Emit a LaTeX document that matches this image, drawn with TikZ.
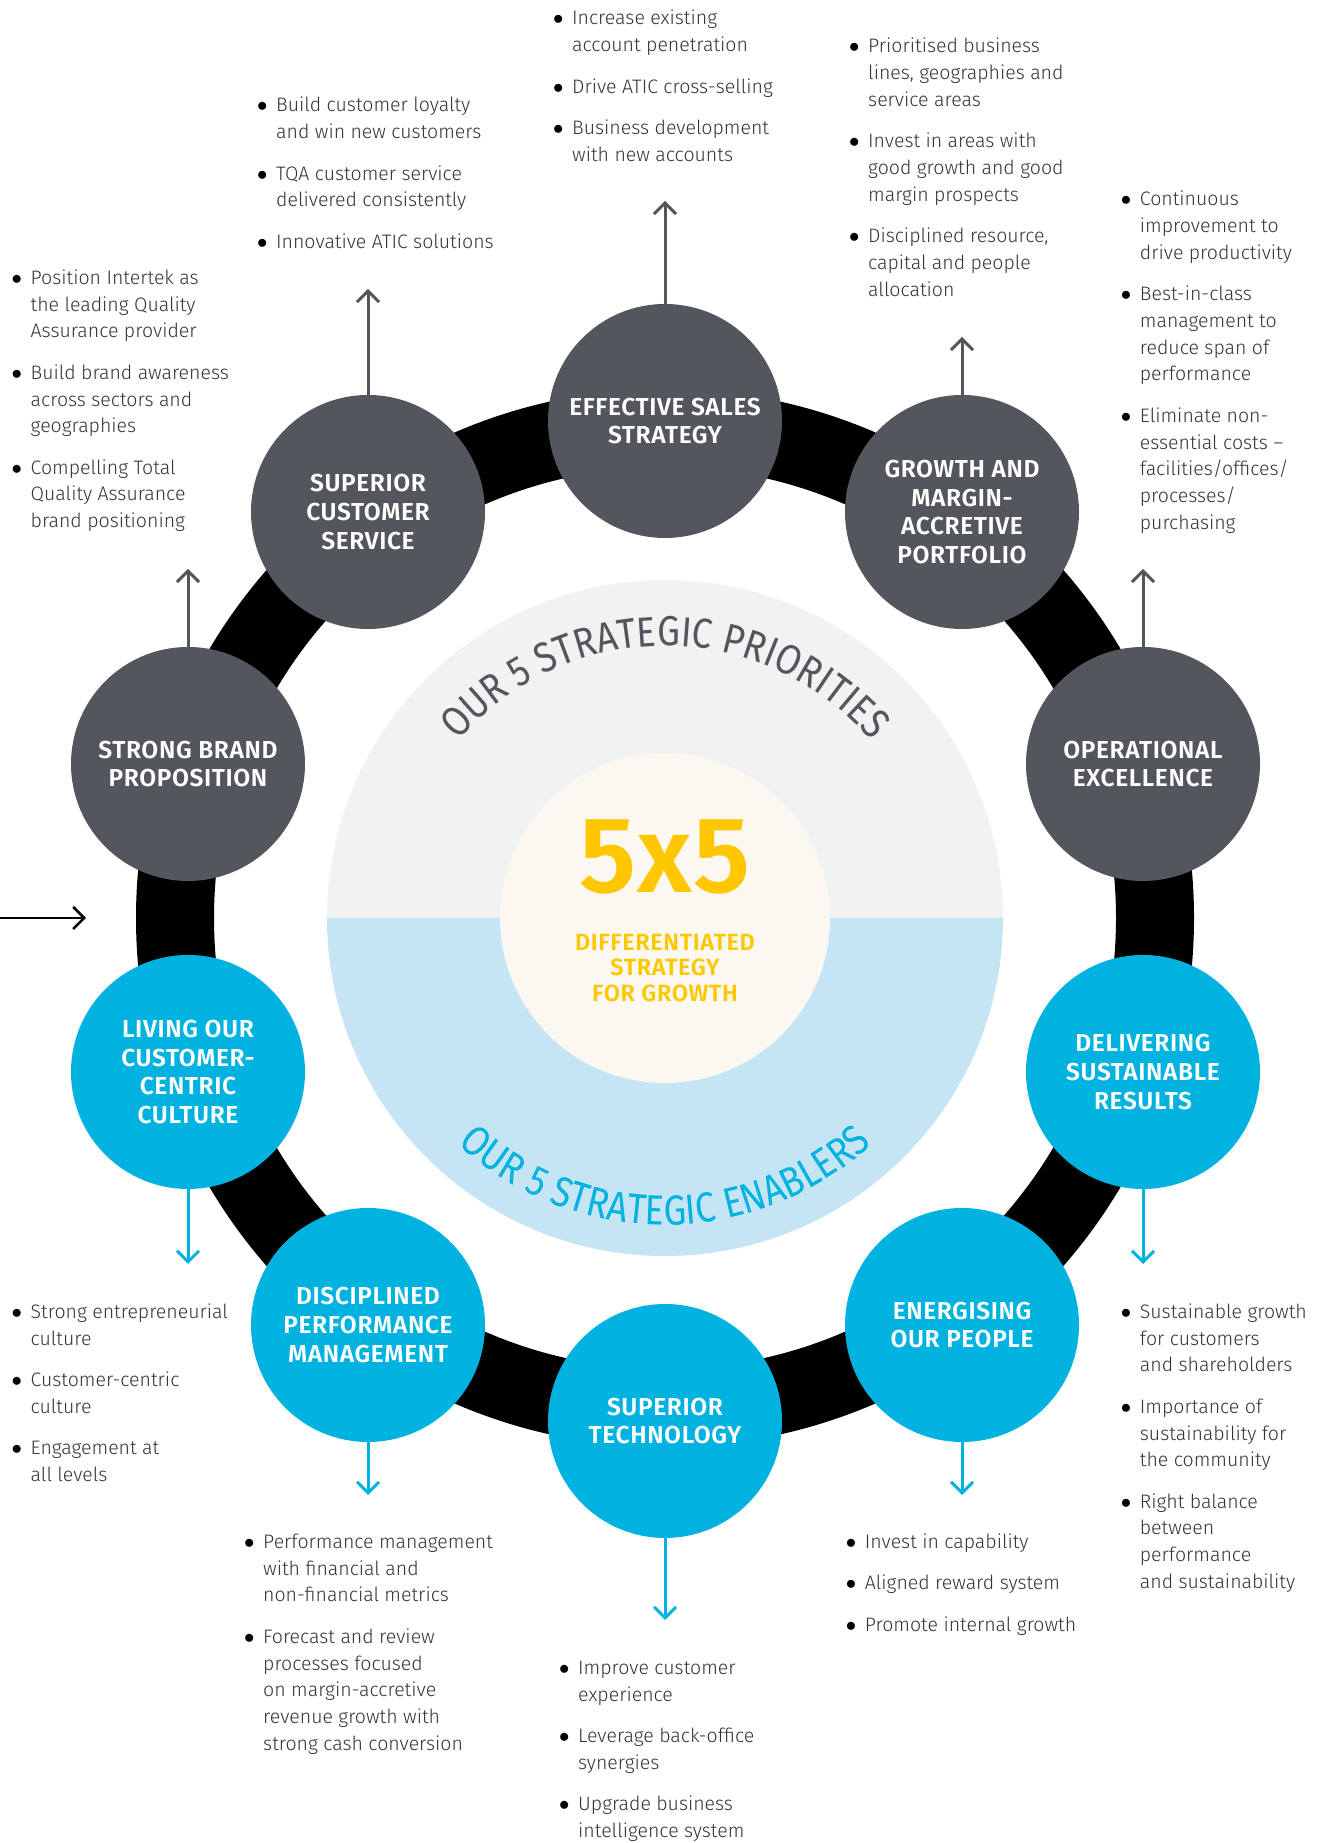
\documentclass[tikz,border=0pt]{standalone}
\usepackage{fontspec}
\setmainfont{Fira Sans}[UprightFont=* Light, BoldFont=* SemiBold]
\newfontfamily\arcfont{Fira Sans}[FakeStretch=0.86]
\newfontfamily\titlefont{Fira Sans}[UprightFont=* SemiBold, LetterSpace=2.5]
\usetikzlibrary{arrows.meta,decorations.text}

\definecolor{slate}{HTML}{53565D}
\definecolor{cyanblue}{HTML}{00B2E0}
\definecolor{mist}{HTML}{F1F2F2}
\definecolor{pale}{HTML}{C6E5F4}
\definecolor{cream}{HTML}{FBF8F1}
\definecolor{gold}{HTML}{FFC700}
\definecolor{ink}{HTML}{333333}

\newcommand{\bl}{\textcolor{black}{$\bullet$}&}

\tikzset{
	prio/.style={circle,fill=slate,minimum size=234pt,inner sep=0pt,text=white,
		align=center,font=\titlefont\fontsize{24.5}{28.8}\selectfont},
	enab/.style={prio,fill=cyanblue},
	notes/.style={anchor=base west,inner sep=0pt,text=ink,
		font=\fontsize{19.5}{26.7}\selectfont},
	uparrow/.style={->,draw=slate,line width=3pt},
	downarrow/.style={->,draw=cyanblue,line width=3pt}
}

\begin{document}
\begin{tikzpicture}
	[x=1pt,y=1pt,>={Straight Barb[length=11pt,width=22pt]}]
	\useasboundingbox (0,0) rectangle (1330,1843);
	\coordinate (ctr) at (665,925);
	% ring and core
	\draw[line width=78pt] (ctr) circle[radius=490];
	\fill[mist] ([shift={(338,0)}]ctr) arc[start angle=0,end angle=180,radius=338] -- cycle;
	\fill[pale] ([shift={(-338,0)}]ctr) arc[start angle=180,end angle=360,radius=338] -- cycle;
	\node[circle,fill=cream,minimum size=330pt,inner sep=0pt] (core) at (ctr) {};
	\node[text=gold,font=\titlefont\fontsize{108}{108}\selectfont] (fivebyfive) at (665,986) {5x5};
	\node[text=gold,align=center,font=\titlefont\fontsize{23.5}{25.3}\selectfont] (motto) at (665,875)
		{DIFFERENTIATED\\STRATEGY\\FOR GROWTH};
	\path[decorate,decoration={text along path,text align=center,text color=slate,
		text={|\arcfont\fontsize{42}{42}\selectfont|OUR 5 STRATEGIC PRIORITIES}}]
		([shift={(150:272)}]ctr) arc[start angle=150,end angle=30,radius=272];
	\path[decorate,decoration={text along path,text align=center,text color=cyanblue,
		text={|\arcfont\fontsize{42}{42}\selectfont|OUR 5 STRATEGIC ENABLERS}}]
		([shift={(210:307)}]ctr) arc[start angle=210,end angle=330,radius=307];
	
	% priorities
	\node[prio] (sales) at (665,1422) {EFFECTIVE SALES\\STRATEGY};
	\node[prio] (service) at (368,1331) {SUPERIOR\\CUSTOMER\\SERVICE};
	\node[prio] (portfolio) at (962,1331) {GROWTH AND\\MARGIN-\\ACCRETIVE\\PORTFOLIO};
	\node[prio] (brand) at (188,1079) {STRONG BRAND\\PROPOSITION};
	\node[prio] (excellence) at (1143,1079) {OPERATIONAL\\EXCELLENCE};
	% enablers
	\node[enab] (culture) at (188,771) {LIVING OUR\\CUSTOMER-\\CENTRIC\\CULTURE};
	\node[enab] (results) at (1143,771) {DELIVERING\\SUSTAINABLE\\RESULTS};
	\node[enab] (discipline) at (368,518) {DISCIPLINED\\PERFORMANCE\\MANAGEMENT};
	\node[enab] (people) at (962,518) {ENERGISING\\OUR PEOPLE};
	\node[enab] (technology) at (665,422) {SUPERIOR\\TECHNOLOGY};
	
	\coordinate (salestip) at (665,1642);
	\coordinate (servicetip) at (368,1554);
	\coordinate (portfoliotip) at (962,1506);
	\coordinate (brandtip) at (188,1274);
	\coordinate (excellencetip) at (1143,1274);
	\coordinate (culturetip) at (188,579);
	\coordinate (resultstip) at (1143,579);
	\coordinate (disciplinetip) at (368,348);
	\coordinate (peopletip) at (962,348);
	\coordinate (technologytip) at (665,223);
	\coordinate (entry) at (0,925);
	\coordinate (entryend) at (86,925);
	\path
	\foreach \startNode/\endNode in {sales/salestip,service/servicetip,portfolio/portfoliotip,
		brand/brandtip,excellence/excellencetip}
	{
		(\startNode) edge[uparrow] (\endNode)
	};
	\path
	\foreach \startNode/\endNode in {culture/culturetip,results/resultstip,discipline/disciplinetip,
		people/peopletip,technology/technologytip}
	{
		(\startNode) edge[downarrow] (\endNode)
	};
	\draw[->,line width=2.5pt] (entry) to (entryend);
	
	% bullet lists
	\node[notes] (salesnotes) at (553,1818) {\begin{tabular}[t]{@{}p{19pt}@{}l@{}}
		\bl Increase existing\\ & account penetration\\[14.8pt]
		\bl Drive ATIC cross-selling\\[14.8pt]
		\bl Business development\\ & with new accounts
	\end{tabular}};
	\node[notes] (servicenotes) at (257,1731) {\begin{tabular}[t]{@{}p{19pt}@{}l@{}}
		\bl Build customer loyalty\\ & and win new customers\\[14.8pt]
		\bl TQA customer service\\ & delivered consistently\\[14.8pt]
		\bl Innovative ATIC solutions
	\end{tabular}};
	\node[notes] (portfolionotes) at (849,1790) {\begin{tabular}[t]{@{}p{19pt}@{}l@{}}
		\bl Prioritised business\\ & lines, geographies and\\ & service areas\\[14.8pt]
		\bl Invest in areas with\\ & good growth and good\\ & margin prospects\\[14.8pt]
		\bl Disciplined resource,\\ & capital and people\\ & allocation
	\end{tabular}};
	\node[notes] (excellencenotes) at (1120.7,1637) {\begin{tabular}[t]{@{}p{19pt}@{}l@{}}
		\bl Continuous\\ & improvement to\\ & drive productivity\\[14.8pt]
		\bl Best-in-class\\ & management to\\ & reduce span of\\ & performance\\[14.8pt]
		\bl Eliminate non-\\ & essential costs –\\ & facilities/offices/\\ & processes/\\ & purchasing
	\end{tabular}};
	\node[notes] (brandnotes) at (11.5,1558.5) {\begin{tabular}[t]{@{}p{19pt}@{}l@{}}
		\bl Position Intertek as\\ & the leading Quality\\ & Assurance provider\\[14.8pt]
		\bl Build brand awareness\\ & across sectors and\\ & geographies\\[14.8pt]
		\bl Compelling Total\\ & Quality Assurance\\ & brand positioning
	\end{tabular}};
	\node[notes] (culturenotes) at (11.5,524.5) {\begin{tabular}[t]{@{}p{19pt}@{}l@{}}
		\bl Strong entrepreneurial\\ & culture\\[14.8pt]
		\bl Customer-centric\\ & culture\\[14.8pt]
		\bl Engagement at\\ & all levels
	\end{tabular}};
	\node[notes] (disciplinenotes) at (244,294.5) {\begin{tabular}[t]{@{}p{19pt}@{}l@{}}
		\bl Performance management\\ & with financial and\\ & non-financial metrics\\[14.8pt]
		\bl Forecast and review\\ & processes focused\\ & on margin-accretive\\ & revenue growth with\\ & strong cash conversion
	\end{tabular}};
	\node[notes] (technologynotes) at (559,168.5) {\begin{tabular}[t]{@{}p{19pt}@{}l@{}}
		\bl Improve customer\\ & experience\\[14.8pt]
		\bl Leverage back-office\\ & synergies\\[14.8pt]
		\bl Upgrade business\\ & intelligence system
	\end{tabular}};
	\node[notes] (peoplenotes) at (845.7,294.5) {\begin{tabular}[t]{@{}p{19pt}@{}l@{}}
		\bl Invest in capability\\[14.8pt]
		\bl Aligned reward system\\[14.8pt]
		\bl Promote internal growth
	\end{tabular}};
	\node[notes] (resultsnotes) at (1120.7,524.5) {\begin{tabular}[t]{@{}p{19pt}@{}l@{}}
		\bl Sustainable growth\\ & for customers\\ & and shareholders\\[14.8pt]
		\bl Importance of\\ & sustainability for\\ & the community\\[14.8pt]
		\bl Right balance\\ & between\\ & performance\\ & and sustainability
	\end{tabular}};
\end{tikzpicture}
\end{document}
